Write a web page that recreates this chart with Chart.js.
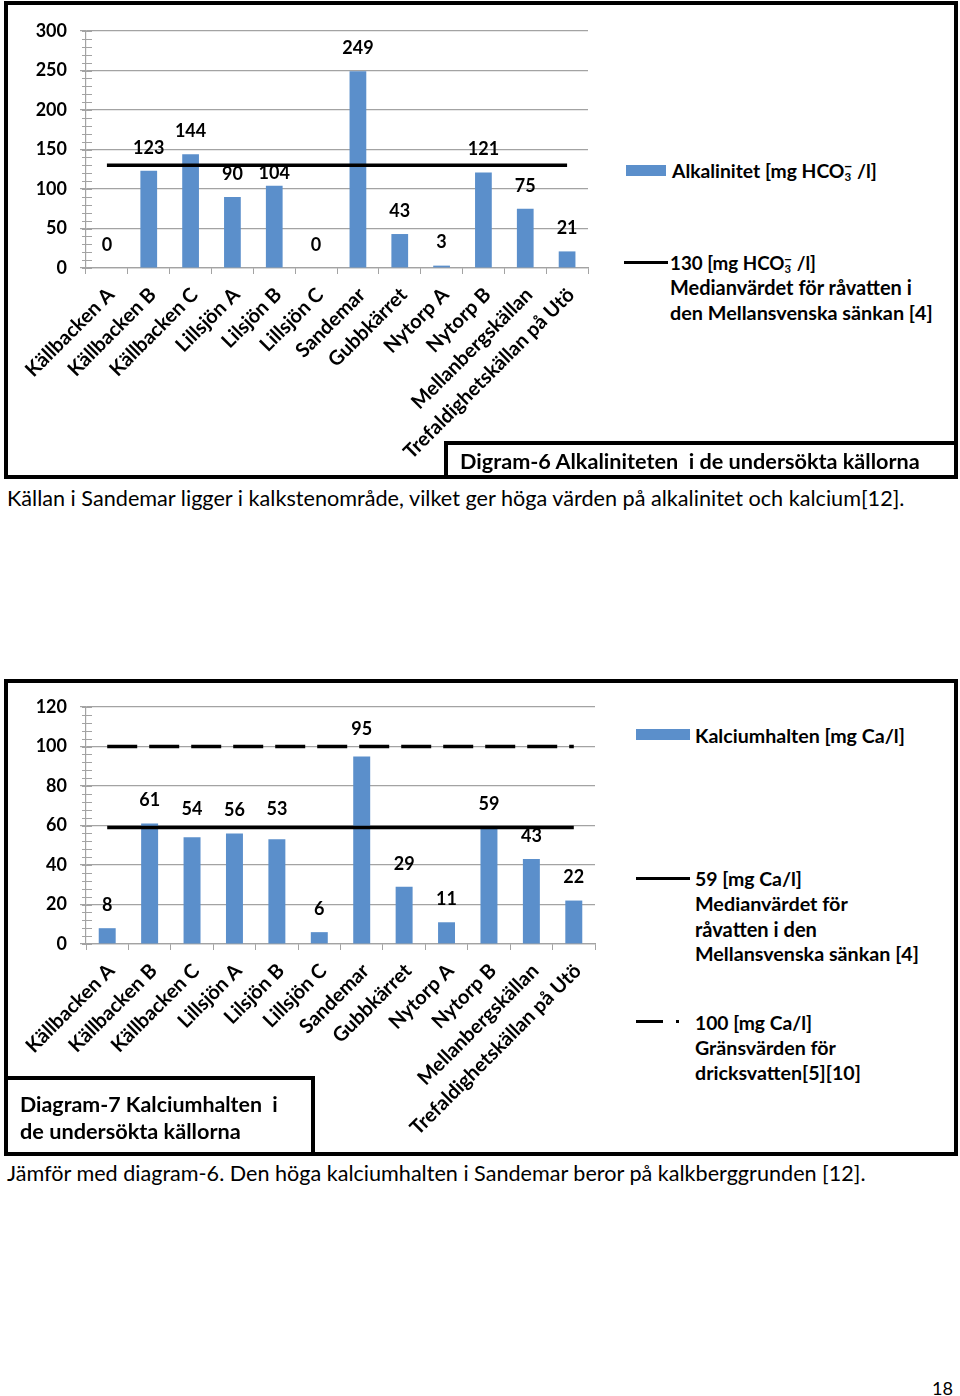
<!DOCTYPE html>
<html><head><meta charset="utf-8">
<script src="https://cdn.jsdelivr.net/npm/chart.js@4.4.1/dist/chart.umd.min.js"></script>
<style>
html,body{margin:0;padding:0;background:#fff;}
body{width:960px;height:1396px;position:relative;overflow:hidden;font-family:Lato,'Open Sans',sans-serif;color:#000;}
.t{position:absolute;white-space:nowrap;line-height:1;transform:translateY(-50%);font-size:18px;}
.b{font-weight:bold;}
.box{position:absolute;border:4px solid #000;box-sizing:border-box;background:transparent;}
.cap{background:#fff;}
canvas{position:absolute;}
.sw{position:absolute;background:#5b8fcb;}
.ln{position:absolute;background:#000;}
.s3{font-size:0.6em;position:relative;top:0.3em;}
.sm{font-size:0.75em;position:relative;top:-0.45em;margin-left:-0.5em;}
</style></head><body>

<div class="box" style="left:4px;top:1px;width:954px;height:478px;"></div>
<div class="box cap" style="left:444px;top:441px;width:514px;height:38px;"></div>
<div class="box" style="left:4px;top:679px;width:954px;height:477px;"></div>
<div class="box cap" style="left:4px;top:1076px;width:311px;height:80px;"></div>

<canvas id="c1" width="600" height="480" style="left:0;top:0;"></canvas>
<canvas id="c2" width="600" height="476" style="left:0;top:680px;"></canvas>

<!-- legend 1 -->
<div class="sw" style="left:626px;top:165px;width:40px;height:11px;"></div>
<div class="t b" data-w="205" style="left:672px;top:171px;">Alkalinitet [mg HCO<span class="s3">3</span><span class="sm">−</span> /l]</div>
<div class="ln" style="left:624px;top:261px;width:44px;height:3px;"></div>
<div class="t b" data-w="146" style="left:670px;top:263px;">130 [mg HCO<span class="s3">3</span><span class="sm">−</span> /l]</div>
<div class="t b" data-w="242" style="left:670px;top:288px;">Medianvärdet för råvatten i</div>
<div class="t b" data-w="263" style="left:670px;top:313px;">den Mellansvenska sänkan [4]</div>

<div class="t b" data-w="460" style="left:460px;top:462px;">Digram-6 Alkaliniteten&nbsp; i de undersökta källorna</div>
<div class="t" data-w="898" style="left:7px;top:499px;">Källan i Sandemar ligger i kalkstenområde, vilket ger höga värden på alkalinitet och kalcium[12].</div>

<!-- legend 2 -->
<div class="sw" style="left:636px;top:729px;width:54px;height:11px;"></div>
<div class="t b" data-w="210" style="left:695px;top:736px;">Kalciumhalten [mg Ca/l]</div>
<div class="ln" style="left:636px;top:877px;width:54px;height:3px;"></div>
<div class="t b" data-w="107" style="left:695px;top:879px;">59 [mg Ca/l]</div>
<div class="t b" data-w="153" style="left:695px;top:904px;">Medianvärdet för</div>
<div class="t b" data-w="122" style="left:695px;top:929px;">råvatten i den</div>
<div class="t b" data-w="224" style="left:695px;top:954px;">Mellansvenska sänkan [4]</div>
<div class="ln" style="left:636px;top:1020px;width:27px;height:3px;"></div>
<div class="ln" style="left:676px;top:1020px;width:3px;height:3px;"></div>
<div class="t b" data-w="117" style="left:695px;top:1023px;">100 [mg Ca/l]</div>
<div class="t b" data-w="141" style="left:695px;top:1048px;">Gränsvärden för</div>
<div class="t b" data-w="166" style="left:695px;top:1073px;">dricksvatten[5][10]</div>

<div class="t b" data-w="258" style="left:20px;top:1105px;">Diagram-7 Kalciumhalten&nbsp; i</div>
<div class="t b" data-w="221" style="left:20px;top:1132px;">de undersökta källorna</div>
<div class="t" data-w="859" style="left:7px;top:1174px;">Jämför med diagram-6. Den höga kalciumhalten i Sandemar beror på kalkberggrunden [12].</div>
<div class="t" data-w="21" style="left:932px;top:1388px;">18</div>

<script>
// ---- data ----
const categories = ['Källbacken A','Källbacken B','Källbacken C','Lillsjön A','Lilsjön B','Lillsjön C','Sandemar','Gubbkärret','Nytorp A','Nytorp B','Mellanbergskällan','Trefaldighetskällan på Utö'];
const alkalinity = [0,123,144,90,104,0,249,43,3,121,75,21];
const alkalinityMedian = [130,130,130,130,130,130,130,130,130,130,130,130];
const calcium = [8,61,54,56,53,6,95,29,11,59,43,22];
const calciumMedian = [59,59,59,59,59,59,59,59,59,59,59,59];
const calciumLimit = [100,100,100,100,100,100,100,100,100,100,100,100];
const alkAxis = {min:0, max:300, step:50, minor:10};
const caAxis = {min:0, max:120, step:20, minor:4};

// label placement tweaks (pixels, by bar index) – style only
const labelNudge1 = {4:10};
const labelNudge2 = {2:-5, 4:-7, 6:-4};

// fit text widths
document.querySelectorAll('[data-w]').forEach(el=>{
  const target=+el.dataset.w; const w=el.getBoundingClientRect().width;
  const fs=parseFloat(getComputedStyle(el).fontSize);
  el.style.fontSize=(fs*target/w)+'px';
});

Chart.defaults.font.family = 'Lato';
const GRID = '#a3a3a3';
const BAR = '#5b8fcb';

const valueLabels = {
  id:'valueLabels',
  afterDatasetsDraw(chart, args, opts){
    const ctx=chart.ctx; const meta=chart.getDatasetMeta(0);
    const vals=chart.data.datasets[0].data; const nudge=opts.nudge||{};
    ctx.save(); ctx.font='bold 18px Lato'; ctx.fillStyle='#000';
    ctx.textAlign='center'; ctx.textBaseline='middle';
    meta.data.forEach((bar,i)=>ctx.fillText(String(vals[i]), bar.x, bar.y-23+(nudge[i]||0)));
    ctx.restore();
  }
};
const minorTicks = {
  id:'minorTicks',
  afterDraw(chart, args, opts){
    const y=chart.scales.y, ctx=chart.ctx, x0=chart.chartArea.left;
    ctx.save(); ctx.strokeStyle=GRID; ctx.lineWidth=1;
    for(let v=y.min; v<=y.max; v+=opts.step){
      const py=Math.round(y.getPixelForValue(v))+0.5;
      ctx.beginPath(); ctx.moveTo(x0-4,py); ctx.lineTo(x0+6,py); ctx.stroke();
    }
    ctx.restore();
  }
};

function makeChart(id, barData, lines, axis, pad, xHeight, nudge){
  const datasets=[{type:'bar', data:barData, backgroundColor:BAR, barPercentage:0.4, categoryPercentage:1, order:2}];
  lines.forEach(l=>datasets.push({type:'line', data:l.data, borderColor:'#000', borderWidth:3.5, borderDash:l.dash||[], pointRadius:0, order:1, borderCapStyle:'butt'}));
  return new Chart(document.getElementById(id), {
    type:'bar',
    data:{labels:categories, datasets},
    options:{
      responsive:false, animation:false, devicePixelRatio:1,
      layout:{padding:pad},
      plugins:{legend:{display:false}, tooltip:{enabled:false}, minorTicks:{step:axis.minor}, valueLabels:{nudge}},
      scales:{
        x:{
          offset:true,
          grid:{display:true, drawOnChartArea:false, drawTicks:true, tickLength:6, color:GRID, offset:true},
          border:{color:GRID, width:1.2},
          ticks:{autoSkip:false, minRotation:45, maxRotation:45, color:'#000', font:{size:20, weight:'bold'}, padding:9, labelOffset:4},
          afterFit(s){ s.height = xHeight; }
        },
        y:{
          min:axis.min, max:axis.max,
          grid:{color:GRID, lineWidth:1.2, tickLength:6},
          border:{color:GRID, width:1.2},
          ticks:{stepSize:axis.step, color:'#000', font:{size:18, weight:'bold'}, padding:13},
          afterFit(s){ s.width = 86; }
        }
      }
    },
    plugins:[minorTicks, valueLabels]
  });
}

makeChart('c1', alkalinity, [{data:alkalinityMedian}], alkAxis, {top:31, right:12, left:0, bottom:0}, 212, labelNudge1);
makeChart('c2', calcium, [{data:calciumMedian},{data:calciumLimit, dash:[30,12]}], caAxis, {top:27, right:5, left:0, bottom:0}, 212, labelNudge2);
</script>
</body></html>
